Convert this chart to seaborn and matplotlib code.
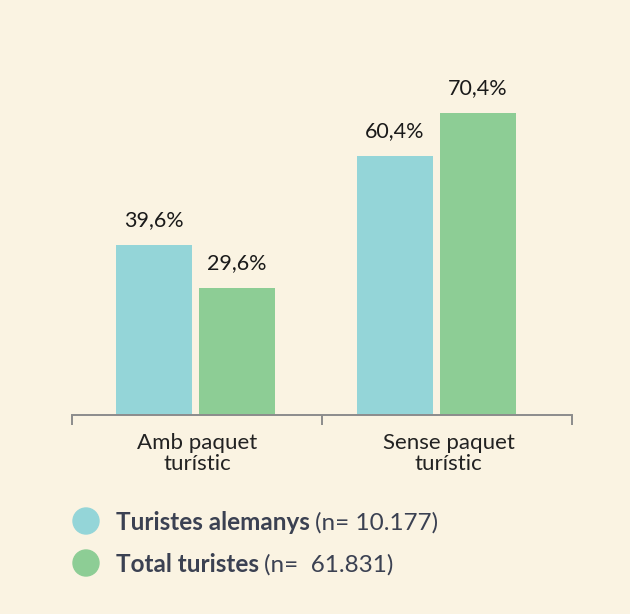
import numpy as np
import matplotlib
matplotlib.use("Agg")
import matplotlib.pyplot as plt
from matplotlib.patches import Ellipse
import seaborn as sns
import pandas as pd

# data
categories = ["Amb paquet\nturístic", "Sense paquet\nturístic"]
series = ["Turistes alemanys", "Total turistes"]
series_n = ["(n= 10.177)", "(n=  61.831)"]
alemanys = [39.6, 60.4]
total = [29.6, 70.4]

BG = "#faf3e2"
colors = ["#94d5d8", "#8dcd95"]

sns.set_style("white")
plt.rcParams["font.family"] = ["Lato", "DejaVu Sans"]

dat = pd.DataFrame({
    "cat": categories * 2,
    "serie": [series[0]] * 2 + [series[1]] * 2,
    "val": alemanys + total,
})

fig = plt.figure(figsize=(6.3, 6.14), dpi=100, facecolor=BG)
ax = fig.add_axes([72 / 630, 199 / 614, 500 / 630, 355 / 614])
ax.set_facecolor(BG)

sns.barplot(data=dat, x="cat", y="val", hue="serie", order=categories,
            hue_order=series, palette=colors, width=0.69, gap=0.085,
            saturation=1, linewidth=0, errorbar=None, legend=False, ax=ax)

for cont in ax.containers:
    labs = [f"{v:.1f}%".replace(".", ",") for v in cont.datavalues]
    ax.bar_label(cont, labels=labs, padding=11, fontsize=15.5, color="#1a1a1a")

ax.set(xlim=(-0.512, 1.562), ylim=(0, 82.75), xlabel="", ylabel="", yticks=[])
ax.set_xticks([0.006, 1.05], categories)
ax.set_xticks([-0.512, 0.524, 1.562], minor=True)
ax.tick_params(axis="x", which="major", bottom=False, length=0, pad=13,
               labelsize=16, labelcolor="#222222")
ax.tick_params(axis="x", which="minor", bottom=True, length=7, width=1.4,
               color="#8c8c8c", direction="out")
for lab in ax.get_xticklabels():
    lab.set_linespacing(1.05)
sns.despine(ax=ax, left=True)
ax.spines["bottom"].set_color("#8c8c8c")
ax.spines["bottom"].set_linewidth(1.4)

# legend drawn by hand: bold name + normal n
fig.canvas.draw()
rend = fig.canvas.get_renderer()
for i, (name, n) in enumerate(zip(series, series_n)):
    yc = (614 - (521 + 42 * i)) / 614
    fig.patches.append(Ellipse((86 / 630, yc), 26 / 630, 26 / 614,
                               transform=fig.transFigure, color=colors[i]))
    t = fig.text(116 / 630, yc, name, fontsize=17.5, fontweight="bold",
                 color="#3b4152", va="center_baseline")
    bb = t.get_window_extent(rend)
    fig.text((bb.x1 + 5) / 630, yc, n, fontsize=17.5, color="#3b4152",
             va="center_baseline")

fig.savefig("out.png", dpi=100, facecolor=BG)
